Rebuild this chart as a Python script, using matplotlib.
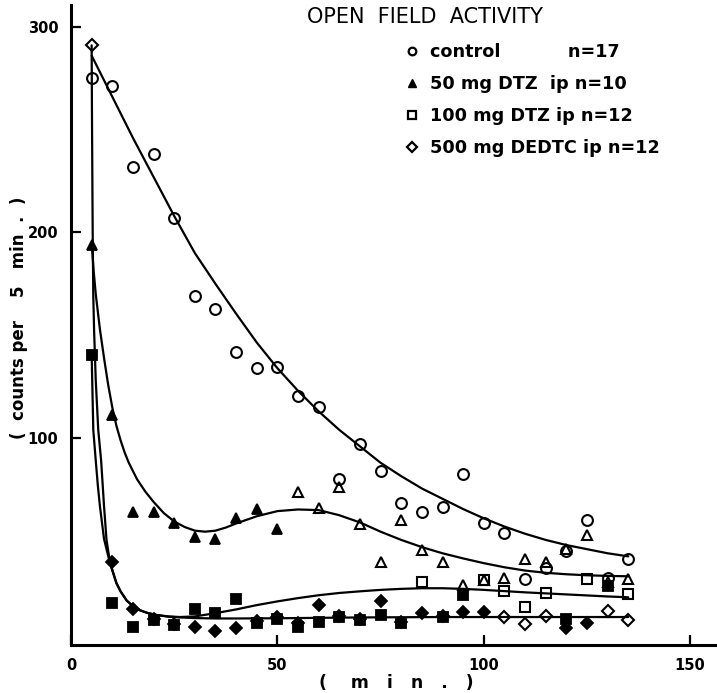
import numpy as np
import matplotlib
matplotlib.use('Agg')
import matplotlib.pyplot as plt
from matplotlib.lines import Line2D

# minutes after injection (5 min bins)
minutes = [5, 10, 15, 20, 25, 30, 35, 40, 45, 50, 55, 60, 65, 70, 75, 80,
           85, 90, 95, 100, 105, 110, 115, 120, 125, 130, 135]

# counts per 5 min
control = [275, 271, 232, 238, 207, 169, 163, 142, 134, 134.5, 120.5, 115, 80, 97,
           84, 68.5, 64, 66.5, 82.5, 58.6, 53.7, 31.5, 37, 45, 60, 32, 41]
dtz50 = [194, 111, 64, 64, 58.6, 52, 51, 61, 65.5, 56, 74, 66, 76, 58,
         40, 60, 45.5, 40, 28.5, 31, 32, 41, 40, 46, 53, 30, 31.5]
dtz100 = [140.5, 20, 8, 11.5, 9, 17, 15, 22, 10, 12, 8, 10.5, 13, 11.5,
          14, 10, 30, 13, 23.6, 31, 25.5, 18, 24.6, 12, 31.5, 28, 24]
dedtc = [291, 40, 17, 12, 9.5, 8, 6, 7.5, 11, 13, 10, 19, 13.5, 12,
         21, 10.5, 15, 13.5, 15.5, 15.5, 13, 9.5, 13.4, 7.5, 10, 15.8, 11.5]

# F = filled symbol, O = open symbol
dtz50_fill = "FFFFFFFFFFOOOOOOOOOOOOOOOOO"
dtz100_fill = "FFFFFFFFFFFFFFFFOFFOOOOFOFO"
dedtc_fill = "OFFFFFFFFFFFFFFFFFFFOOOFFOO"

# fitted curves as drawn in the figure
control_fit_x = [5, 10, 15, 20, 25, 30, 35, 40, 45, 50, 55, 60, 65, 70, 75, 80,
                 85, 90, 95, 100, 105, 110, 115, 120, 125, 130, 135]
control_fit_y = [286, 266, 246, 227, 208, 190, 175, 160.5, 146.5, 134, 123, 113, 104, 96,
                 88, 81.5, 75.5, 70.5, 65.5, 61, 57, 53.5, 50.5, 48, 46, 44, 42.5]

dtz50_fit_x = [5, 5.5, 6, 7, 8, 9, 10, 11, 12, 13, 14, 16, 18, 20, 22.5, 25, 27.5, 30,
               32.5, 35, 37.5, 40, 45, 50, 55, 60, 65, 70, 75, 80, 85, 90, 95, 100,
               105, 110, 115, 120, 125, 130, 135]
dtz50_fit_y = [195, 181, 170, 153, 139, 126, 115, 106, 99, 93, 88, 80, 74, 69, 63.5, 59.5,
               56.8, 55, 54.5, 55, 56.5, 58.5, 62, 64.5, 65.3, 65, 62.5, 59, 54.5, 50.5,
               47, 44, 41.5, 39.2, 37.2, 35.6, 34.5, 33.8, 33.3, 33, 32.8]

dtz100_fit_x = [5, 5.4, 6, 6.5, 7, 8, 9.4, 11, 12, 13.5, 15, 16.7, 18.5, 20.7, 23.5, 26.4,
                30, 34.5, 40, 45, 50, 55, 60, 65, 70, 75, 80, 85, 90, 95, 100, 105,
                110, 115, 120, 125, 130, 135]
dtz100_fit_y = [141, 104, 89, 77, 67, 51, 39.5, 29.5, 25.5, 21, 18.3, 16.3, 15, 14, 13.3, 13,
                13.3, 14.7, 16.7, 18.8, 20.6, 22.2, 23.6, 24.7, 25.5, 26.2, 26.7, 27, 27,
                26.7, 26.2, 25.6, 25, 24.5, 24, 23.5, 23, 22.6]

dedtc_fit_x = [5, 5.1, 5.25, 5.4, 5.6, 6, 6.6, 7.3, 8, 8.6, 9.45, 11, 12, 13.5, 15, 16.7,
               18.5, 20.7, 23.5, 26.4, 30, 35, 40, 50, 60, 70, 80, 90, 100, 110, 120, 135]
dedtc_fit_y = [291, 250, 201, 169, 152, 128, 104, 89, 67, 50.5, 39.5, 29.5, 25.5, 21, 18.3,
               16.3, 15, 14, 13.2, 12.8, 12.5, 12.3, 12.3, 12.4, 12.6, 12.8, 12.9, 13, 13,
               13, 13, 13]

legend_labels = ["control" + " " * 11 + "n=17",
                 "50 mg DTZ  ip n=10",
                 "100 mg DTZ ip n=12",
                 "500 mg DEDTC ip n=12"]

fig = plt.figure(figsize=(7.17, 6.93), dpi=100)
ax = fig.add_axes([71 / 717, 48 / 693, 646 / 717, 640 / 693])

# curves
for fx, fy in [(control_fit_x, control_fit_y), (dtz50_fit_x, dtz50_fit_y),
               (dtz100_fit_x, dtz100_fit_y), (dedtc_fit_x, dedtc_fit_y)]:
    ax.plot(fx, fy, color='black', lw=1.6, solid_capstyle='round', zorder=2)

x = np.array(minutes)


def draw_points(vals, fills, marker, ms):
    vals = np.array(vals)
    if fills is None:
        fills = "O" * len(vals)
    f = np.array([c == 'F' for c in fills])
    ax.plot(x[f], vals[f], linestyle='none', marker=marker, ms=ms, mfc='black',
            mec='black', mew=1.3, zorder=3)
    ax.plot(x[~f], vals[~f], linestyle='none', marker=marker, ms=ms, mfc='none',
            mec='black', mew=1.5, zorder=3)


draw_points(control, None, 'o', 7.8)
draw_points(dtz50, dtz50_fill, '^', 7.5)
draw_points(dtz100, dtz100_fill, 's', 6.8)
draw_points(dedtc, dedtc_fill, 'D', 6.2)

ax.set_xlim(0, 156.5)
ax.set_ylim(-0.6, 310.6)
for s in ['top', 'right']:
    ax.spines[s].set_visible(False)
for s in ['left', 'bottom']:
    ax.spines[s].set_linewidth(2.2)

ax.set_xticks([0, 50, 100, 150])
ax.set_yticks([100, 200, 300])
ax.tick_params(axis='both', direction='in', length=7, width=1.6, labelsize=10.5)
ax.tick_params(axis='x', pad=9)
ax.tick_params(axis='y', pad=9)
for lab in ax.get_xticklabels() + ax.get_yticklabels():
    lab.set_fontweight('bold')

# legend
handles = [
    Line2D([], [], linestyle='none', marker='o', ms=5.5, mfc='none', mec='black', mew=1.6),
    Line2D([], [], linestyle='none', marker='^', ms=6, mfc='black', mec='black'),
    Line2D([], [], linestyle='none', marker='s', ms=5.5, mfc='none', mec='black', mew=1.6),
    Line2D([], [], linestyle='none', marker='D', ms=5.5, mfc='none', mec='black', mew=1.6),
]
ax.legend(handles, legend_labels, loc='upper left', bbox_to_anchor=(403 / 717, 1 - 43 / 693),
          bbox_transform=fig.transFigure, frameon=False, borderpad=0, borderaxespad=0,
          handlelength=1.0, handletextpad=0.55, labelspacing=0.8,
          prop={'size': 12.7, 'weight': 'bold'})

fig.text(425 / 717, 1 - 17 / 693, "OPEN  FIELD  ACTIVITY", ha='center', va='center',
         fontsize=15, family='DejaVu Sans')
fig.text(19 / 717, 1 - 318 / 693, "(  counts per    5   min  .  )", rotation=90,
         ha='center', va='center', fontsize=12, weight='bold')
fig.text(396 / 717, 1 - 683 / 693, "(    m   i   n   .   )", ha='center', va='center',
         fontsize=12.4, weight='bold')

fig.savefig('out.png', dpi=100, facecolor='white')
